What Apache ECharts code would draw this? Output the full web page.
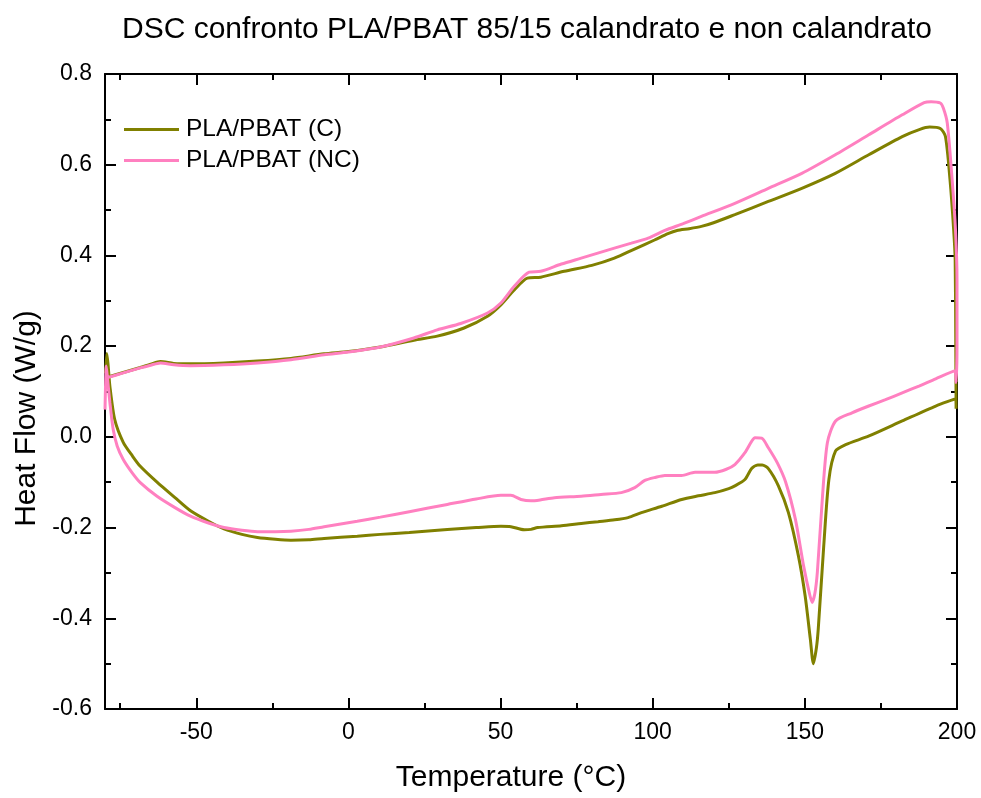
<!DOCTYPE html>
<html>
<head>
<meta charset="utf-8">
<script src="https://cdn.jsdelivr.net/npm/echarts@6/dist/echarts.min.js"></script>
<style>
html,body{margin:0;padding:0;background:#fff;}
#chart{width:981px;height:798px;}
</style>
</head>
<body>
<div id="chart"></div>
<script>
// ---- Data ----
const titleText = 'DSC confronto PLA/PBAT 85/15 calandrato e non calandrato';
const seriesNames = ['PLA/PBAT (C)', 'PLA/PBAT (NC)'];
const xMajorTicks = [-50, 0, 50, 100, 150, 200];
const xMinorTicks = [-75, -25, 25, 75, 125, 175];

// PLA/PBAT (C) heating segment
const cHeatT = [-79.8,-79.4,-79.0,-78.4,-76.8,-74.0,-71,-68.4,-62.9,-57,-51.9,-46,-40.9,-35,-29.9,-24,-18.9,-13,-8.0,2.9,10.5,20,32.5,42,50.1,53.4,57.8,60,62.2,70,76.5,82,87.5,91.9,96.3,103,109.5,115,120.4,125,127,130.3,132.5,134.5,136,138,141.3,144.6,147.9,150.1,151.8,152.8,153.8,154.4,156.2,157.9,160.1,163.4,171.1,182,193,199.6,199.7];
const cHeatY = [0.14,0.184,0.16,0.112,0.038,-0.012,-0.042,-0.065,-0.100,-0.134,-0.163,-0.186,-0.203,-0.215,-0.222,-0.226,-0.228,-0.227,-0.224,-0.219,-0.215,-0.211,-0.204,-0.200,-0.197,-0.198,-0.205,-0.204,-0.200,-0.196,-0.191,-0.187,-0.183,-0.178,-0.167,-0.153,-0.138,-0.130,-0.123,-0.114,-0.108,-0.094,-0.070,-0.062,-0.062,-0.070,-0.108,-0.167,-0.263,-0.351,-0.446,-0.500,-0.465,-0.424,-0.241,-0.094,-0.031,-0.017,0.002,0.035,0.068,0.084,0.062];
// PLA/PBAT (C) cooling segment
const cCoolT = [199.6,199.4,198.9,197.7,196.2,194.5,191,187.8,182,171,160,149,138,127,120,116,112,108,105,100.6,94,87.4,80,70.9,63.2,58.8,54.5,50.1,45.7,38,29.2,21.5,10.5,0,-8,-18.9,-29.9,-40.9,-51.9,-57.4,-61.8,-65,-68.4,-74,-79.5];
const cCoolY = [0.2,0.39,0.457,0.567,0.662,0.680,0.683,0.678,0.662,0.622,0.581,0.548,0.519,0.490,0.472,0.464,0.459,0.455,0.448,0.434,0.414,0.394,0.378,0.365,0.352,0.350,0.324,0.291,0.266,0.240,0.222,0.213,0.198,0.188,0.183,0.173,0.167,0.163,0.161,0.162,0.166,0.160,0.153,0.142,0.131];

// PLA/PBAT (NC) heating segment
const ncHeatT = [-80,-79.8,-79.6,-79.2,-78.4,-77.3,-76,-74,-71,-68.4,-62.9,-57,-51.9,-46,-40.9,-35,-29.9,-24,-18.9,-13,-8,2.9,10.5,20,32.5,42,50.1,53.4,56.7,60,63,67.7,76.5,83,89.7,94.1,97.4,101,104,109.5,113.9,120.4,124,127,130.3,132.5,133.6,135.8,138,141,143.7,146.9,149.6,151.5,152.4,153.3,154.1,155.8,157.4,160.1,165.5,171,176.5,182,187.5,193,199.3,199.7];
const ncHeatY = [0.06,0.12,0.156,0.13,0.076,0.016,-0.02,-0.050,-0.080,-0.101,-0.131,-0.156,-0.175,-0.190,-0.200,-0.206,-0.209,-0.209,-0.208,-0.204,-0.198,-0.186,-0.177,-0.165,-0.149,-0.137,-0.129,-0.129,-0.138,-0.141,-0.139,-0.134,-0.131,-0.127,-0.123,-0.112,-0.096,-0.089,-0.085,-0.085,-0.078,-0.078,-0.072,-0.061,-0.035,-0.010,-0.002,-0.003,-0.024,-0.058,-0.100,-0.182,-0.285,-0.345,-0.365,-0.345,-0.299,-0.131,-0.013,0.035,0.053,0.068,0.082,0.097,0.112,0.128,0.145,0.12];
// PLA/PBAT (NC) cooling segment
const ncCoolT = [200,200,199.5,198.4,196.8,195.5,194.5,191.5,189.2,182,171,160,149,138,127,116,110,104,98.5,93,87.4,76.5,70,63.2,59.4,54.5,50.1,45.7,36.9,29.2,21.5,10.5,0,-8,-18.9,-29.9,-40.9,-51.9,-57.4,-61.8,-65,-68.4,-74,-79.5];
const ncCoolY = [0.2,0.346,0.457,0.567,0.692,0.725,0.736,0.739,0.737,0.710,0.666,0.622,0.581,0.548,0.515,0.486,0.470,0.455,0.438,0.427,0.416,0.394,0.381,0.365,0.363,0.332,0.295,0.273,0.250,0.236,0.218,0.198,0.187,0.181,0.170,0.163,0.159,0.157,0.159,0.163,0.158,0.152,0.141,0.130];

function zip(t, y) { return t.map((v, i) => [v, y[i]]); }
const cData = zip(cHeatT, cHeatY).concat(zip(cCoolT, cCoolY));
const ncData = zip(ncHeatT, ncHeatY).concat(zip(ncCoolT, ncCoolY));

const FONT = "'Liberation Sans', Arial, sans-serif";
const chart = echarts.init(document.getElementById('chart'));

function xAxisDef(pos, ticks, len, showLine, showLabel, name) {
  return {
    type: 'value', position: pos, min: -80, max: 200,
    name: name || '', nameLocation: 'middle', nameGap: 54,
    nameTextStyle: { fontFamily: FONT, fontSize: 30, color: '#000', padding: [0, 40, 0, 0] },
    axisLine: { show: showLine, onZero: false, lineStyle: { color: '#000', width: 2 } },
    axisTick: { show: true, inside: true, length: len, customValues: ticks, lineStyle: { color: '#000', width: 2 } },
    axisLabel: { show: showLabel, customValues: ticks, margin: 12, fontFamily: FONT, fontSize: 23, color: '#000' },
    splitLine: { show: false }
  };
}
function yAxisDef(pos, showLabel, name) {
  return {
    type: 'value', position: pos, min: -0.6, max: 0.8, interval: 0.2,
    name: name || '', nameLocation: 'middle', nameGap: 60,
    nameTextStyle: { fontFamily: FONT, fontSize: 30, color: '#000', padding: [0, 54, 0, 0] },
    axisLine: { show: true, onZero: false, lineStyle: { color: '#000', width: 2 } },
    axisTick: { show: true, inside: true, length: 11, lineStyle: { color: '#000', width: 2 } },
    minorTick: { show: true, splitNumber: 2, length: 6, lineStyle: { color: '#000', width: 2 } },
    axisLabel: { show: showLabel, margin: 13, fontFamily: FONT, fontSize: 23, color: '#000',
      formatter: v => v.toFixed(1) },
    splitLine: { show: false }, minorSplitLine: { show: false }
  };
}

chart.setOption({
  animation: false,
  backgroundColor: '#fff',
  title: {
    text: titleText, left: 117, top: 10,
    textStyle: { fontFamily: FONT, fontSize: 30, fontWeight: 'normal', color: '#000' }
  },
  legend: {
    orient: 'vertical', left: 124, top: 117, padding: 0,
    icon: 'rect', itemWidth: 55, itemHeight: 3, itemGap: 6,
    textStyle: { fontFamily: FONT, fontSize: 24.5, lineHeight: 24, color: '#000', padding: [0, 0, 0, 2] },
    data: seriesNames
  },
  grid: { left: 105, right: 24, top: 74, bottom: 88, containLabel: false },
  xAxis: [
    xAxisDef('bottom', xMajorTicks, 11, true, true, 'Temperature (°C)'),
    xAxisDef('bottom', xMinorTicks, 6, false, false),
    xAxisDef('top', xMajorTicks, 11, true, false),
    xAxisDef('top', xMinorTicks, 6, false, false)
  ],
  yAxis: [
    yAxisDef('left', true, 'Heat Flow (W/g)'),
    yAxisDef('right', false)
  ],
  series: [
    { name: seriesNames[0], type: 'line', xAxisIndex: 0, yAxisIndex: 0, data: cData,
      showSymbol: false, symbol: 'none', smooth: 0.25, clip: true,
      lineStyle: { color: '#808000', width: 3 }, itemStyle: { color: '#808000' } },
    { name: seriesNames[1], type: 'line', xAxisIndex: 0, yAxisIndex: 0, data: ncData,
      showSymbol: false, symbol: 'none', smooth: 0.25, clip: true,
      lineStyle: { color: '#ff80c0', width: 3 }, itemStyle: { color: '#ff80c0' } }
  ]
});
</script>
</body>
</html>
